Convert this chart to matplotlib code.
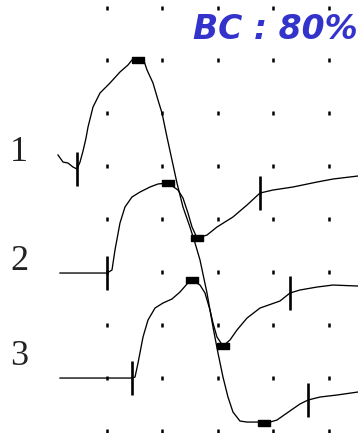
"""Three superimposed evoked responses drawn on a dotted grid."""

import matplotlib
matplotlib.use("Agg")
import matplotlib.pyplot as plt

# Time axis in grid divisions, amplitude in grid divisions.
time_1 = [-0.883, -0.793, -0.703, -0.613, -0.541, -0.486, -0.432, -0.378,
          -0.342, -0.252, -0.126, 0.054, 0.234, 0.378, 0.450, 0.559, 0.667,
          0.721, 0.829, 0.919, 0.991, 1.081, 1.171, 1.261, 1.369, 1.495,
          1.586, 1.676, 1.802, 1.910, 2.000, 2.090, 2.180, 2.270, 2.396,
          2.523, 2.721, 2.829, 2.937, 3.063, 3.243, 3.477, 3.622, 3.838,
          4.144, 4.523]
trace_1 = [2.212, 2.079, 2.060, 1.985, 1.947, 2.079, 2.287, 2.533, 2.741,
           3.119, 3.384, 3.573, 3.781, 3.913, 4.008, 4.008, 3.989, 3.819,
           3.573, 3.251, 3.006, 2.552, 2.117, 1.682, 1.229, 0.851, 0.548,
           0.227, -0.397, -1.040, -1.531, -1.985, -2.363, -2.647, -2.817,
           -2.836, -2.836, -2.854, -2.836, -2.798, -2.665, -2.495, -2.420,
           -2.363, -2.325, -2.268]

time_2 = [-0.847, 0.000, 0.090, 0.144, 0.234, 0.324, 0.450, 0.595, 0.775,
          0.919, 1.099, 1.279, 1.369, 1.459, 1.532, 1.622, 1.802, 1.982,
          2.270, 2.523, 2.757, 2.991, 3.351, 3.784, 4.072, 4.523]
trace_2 = [-0.019, -0.019, 0.038, 0.416, 0.926, 1.229, 1.418, 1.512, 1.607,
           1.664, 1.682, 1.550, 1.399, 1.115, 0.851, 0.643, 0.699, 0.851,
           1.040, 1.267, 1.493, 1.550, 1.607, 1.701, 1.758, 1.815]

time_3 = [-0.847, 0.450, 0.505, 0.559, 0.649, 0.739, 0.865, 1.009, 1.171,
          1.315, 1.441, 1.532, 1.676, 1.766, 1.856, 1.910, 1.982, 2.090,
          2.216, 2.342, 2.523, 2.757, 3.117, 3.297, 3.477, 3.784, 4.072,
          4.523]
trace_3 = [-2.004, -2.004, -1.985, -1.720, -1.229, -0.907, -0.681, -0.586,
           -0.510, -0.378, -0.227, -0.151, -0.246, -0.397, -0.718, -0.964,
           -1.229, -1.399, -1.285, -1.096, -0.870, -0.681, -0.548, -0.397,
           -0.340, -0.284, -0.246, -0.265]

# Onset / offset cursors (vertical bars) and peak / trough markers,
# given as indexes into each trace.
cursor_index = [(4, 42), (1, 20), (1, 23)]
marker_index = [(15, 37), (10, 15), (11, 17)]

trace_labels = ["1", "2", "3"]
label_y = [2.268, 0.208, -1.588]

grid_cols = [0, 1, 2, 3, 4]
grid_rows = [5, 4, 3, 2, 1, 0, -1, -2, -3]

title_text = "BC : 80%"


def draw_traces():
    """
    Draw the three responses with their cursors and peak markers.

    Returns
    -------
    None.

    """

    fig = plt.figure(figsize=(3.58, 4.33), dpi=100)
    ax = fig.add_axes([0, 0, 1, 1])
    ax.set_xlim(-1.928, 4.523)
    ax.set_ylim(-3.043, 5.142)
    ax.axis("off")

    # Dotted reference grid.
    for gx in grid_cols:
        ax.plot([gx] * len(grid_rows), grid_rows, linestyle="none",
                marker="|", markersize=2.6, markeredgewidth=1.8,
                color="black")

    # Rectangle used for the peak / trough markers.
    rect = [(-1.2, -0.5), (1.2, -0.5), (1.2, 0.5), (-1.2, 0.5),
            (-1.2, -0.5)]

    traces = [(time_1, trace_1), (time_2, trace_2), (time_3, trace_3)]
    for (tt, yy), cur, mk in zip(traces, cursor_index, marker_index):
        ax.plot(tt, yy, color="black", linewidth=0.95)
        for i in cur:
            ax.plot([tt[i], tt[i]], [yy[i] - 0.33, yy[i] + 0.33],
                    color="black", linewidth=1.9, solid_capstyle="butt")
        ax.plot([tt[i] for i in mk], [yy[i] for i in mk], linestyle="none",
                marker=rect, markersize=9, color="black")

    # Trace numbers on the left.
    for lab, ly in zip(trace_labels, label_y):
        ax.text(-1.586, ly, lab, ha="center", va="center", fontsize=26,
                family="Liberation Serif", color="#222222")

    ax.text(1.55, 4.59, title_text, ha="left", va="center", fontsize=23.8,
            color="#3333cc", fontweight="bold", fontstyle="italic",
            family="DejaVu Sans")

    fig.savefig("out.png", dpi=100)


draw_traces()
